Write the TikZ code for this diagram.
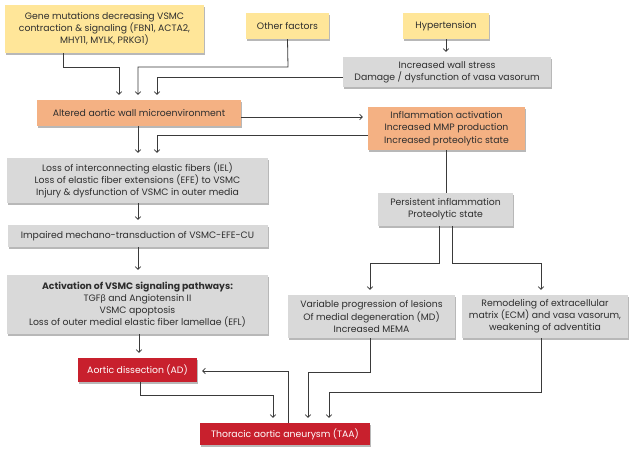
\documentclass[tikz,border=0pt]{standalone}
\usepackage{fontspec}
\setmainfont{Poppins}
\newfontfamily\grk{Lato}
\usetikzlibrary{arrows.meta,shadows}
\definecolor{yel}{HTML}{FFE699}
\definecolor{ora}{HTML}{F4B183}
\definecolor{gry}{HTML}{D9D9D9}
\definecolor{redb}{HTML}{C8202D}
\definecolor{txt}{HTML}{2E2E2E}
\definecolor{lin}{HTML}{3A3A3A}
\begin{document}
\begin{tikzpicture}[x=1pt,y=-1pt,
  box/.style={rectangle, inner sep=0pt, align=center, text=txt,
    font=\fontsize{9.3}{12.2}\selectfont,
    drop shadow={shadow xshift=1.3pt,shadow yshift=-1.6pt,fill=black,opacity=0.28}},
  ybox/.style={box, fill=yel},
  obox/.style={box, fill=ora},
  gbox/.style={box, fill=gry},
  rbox/.style={box, fill=redb, text=white},
  ln/.style={draw=lin, line width=0.8pt},
  arr/.style={ln, -{Straight Barb[length=2.6pt,width=5.5pt]}, shorten >=5pt}
]
\useasboundingbox (0,0) rectangle (637,454);
\fill[white] (0,0) rectangle (637,454);

\node[ybox, minimum width=199pt, minimum height=48pt] (gene) at (104.5,29)
  {Gene mutations decreasing VSMC\\contraction \& signaling (FBN1, ACTA2,\\MHY11, MYLK, PRKG1)};
\node[ybox, minimum width=83pt, minimum height=26pt] (other) at (287.5,26) {Other factors};
\node[ybox, minimum width=86pt, minimum height=26pt] (hyper) at (446,26) {Hypertension};
\node[gbox, minimum width=208pt, minimum height=30pt] (wall) at (447,72)
  {Increased wall stress\\Damage / dysfunction of vasa vasorum};
\node[obox, minimum width=204pt, minimum height=26pt] (altered) at (139,113)
  {Altered aortic wall microenvironment};
\node[obox, minimum width=157pt, minimum height=43pt] (inflam) at (446.5,128.5)
  {Inflammation activation\\Increased MMP production\\Increased proteolytic state};
\node[gbox, minimum width=261pt, minimum height=45pt] (loss) at (137.5,180.5)
  {Loss of interconnecting elastic fibers (IEL)\\Loss of elastic fiber extensions (EFE) to VSMC\\Injury \& dysfunction of VSMC in outer media};
\node[gbox, minimum width=260pt, minimum height=22pt] (impaired) at (137.5,236)
  {Impaired mechano-transduction of VSMC-EFE-CU};
\node[gbox, minimum width=261pt, minimum height=59pt] (activ) at (137.5,304.5)
  {\textbf{Activation of VSMC signaling pathways:}\\TGF{\grk β} and Angiotensin II\\VSMC apoptosis\\Loss of outer medial elastic fiber lamellae (EFL)};
\node[gbox, minimum width=135pt, minimum height=33pt] (persist) at (445.5,209.5)
  {Persistent inflammation\\Proteolytic state};
\node[gbox, minimum width=167pt, minimum height=43pt] (variable) at (371.5,316.5)
  {Variable progression of lesions\\Of medial degeneration (MD)\\Increased MEMA};
\node[gbox, minimum width=166pt, minimum height=43pt] (remodel) at (545,316.5)
  {Remodeling of extracellular\\matrix (ECM) and vasa vasorum,\\weakening of adventitia};
\node[rbox, minimum width=119pt, minimum height=24pt] (ad) at (137.5,370)
  {Aortic dissection (AD)};
\node[rbox, minimum width=170pt, minimum height=22pt] (taa) at (285,434)
  {Thoracic aortic aneurysm (TAA)};

% top inputs
\draw[arr] (gene.south -| 63,0) -- (63,67) -- (119,67) -- (119,0 |- altered.north);
\draw[arr] (other.south) -- (288,67) -- (138,67) -- (138,0 |- altered.north);
\draw[arr] (wall.west |- 0,77) -- (157,77) -- (157,0 |- altered.north);
\draw[arr] (hyper.south) -- (hyper.south |- wall.north);
% altered outputs
\draw[arr] (altered.east |- 0,117) -- (inflam.west |- 0,117);
\draw[arr] (altered.south -| 138,0) -- (138,0 |- loss.north);
\draw[arr] (inflam.west |- 0,135) -- (157,135) -- (157,0 |- loss.north);
\draw[ln] (inflam.south -| 446,0) -- (446,0 |- persist.north);
% left chain
\draw[arr] (loss.south -| 138,0) -- (138,0 |- impaired.north);
\draw[arr] (impaired.south -| 138,0) -- (138,0 |- activ.north);
\draw[arr] (activ.south -| 139,0) -- (139,0 |- ad.north);
% persistent split
\draw[arr] (persist.south -| 439,0) -- (439,263) -- (370,263) -- (370,0 |- variable.north);
\draw[arr] (persist.south -| 452,0) -- (452,263) -- (541,263) -- (541,0 |- remodel.north);
% to TAA
\draw[arr] (ad.south -| 140,0) -- (140,395) -- (273,395) -- (273,0 |- taa.north);
\draw[arr] (taa.north -| 288,0) -- (288,371) -- (ad.east |- 0,371);
\draw[arr] (variable.south -| 370,0) -- (370,372) -- (308,372) -- (308,0 |- taa.north);
\draw[arr] (remodel.south -| 541,0) -- (541,392) -- (329,392) -- (329,0 |- taa.north);
\end{tikzpicture}
\end{document}
